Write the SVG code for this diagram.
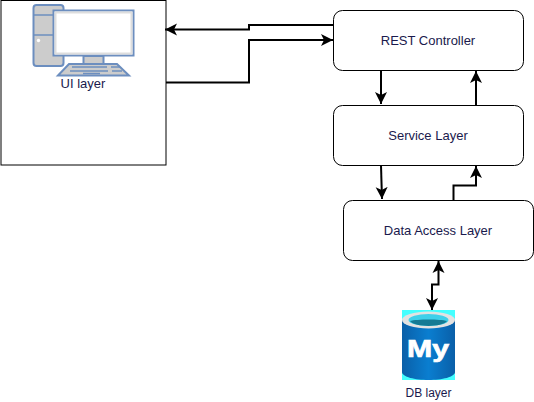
<svg xmlns="http://www.w3.org/2000/svg" width="534" height="402" viewBox="0 0 534 402">
<style>
.t{font-family:"Liberation Sans",Arial,sans-serif;font-size:13px;fill:#1a1a4d;text-anchor:middle}
.box{fill:#fff;stroke:#000;stroke-width:1}
.c{fill:none;stroke:#000;stroke-width:2}
.p{fill:#ccc;stroke:#6c8ebf;stroke-width:2}
.k{fill:none;stroke:#6c8ebf;stroke-width:1.5}
</style>
<defs>
<marker id="a" markerUnits="userSpaceOnUse" markerWidth="14" markerHeight="14" refX="12" refY="6" orient="auto-start-reverse" viewBox="0 0 14 12">
<path d="M0 0L12 6L0 12L3 6Z" fill="#000"/>
</marker>
<linearGradient id="cyl" x1="0" x2="1" y1="0" y2="0">
<stop offset="0" stop-color="#0a5fa8"/><stop offset=".5" stop-color="#0a7ed0"/><stop offset="1" stop-color="#0a5fa8"/>
</linearGradient>
</defs>
<rect width="534" height="402" fill="#fff"/>
<g id="ui-layer">
<rect x="1" y="0.500" width="165" height="164.500" fill="#fff" stroke="#000" stroke-width="1"/>
<rect x="33.500" y="5" width="30" height="61" rx="3" class="p"/>
<path d="M33.500 15H63.500M33.500 35H63.500" class="k"/>
<circle cx="38.500" cy="40.500" r="1.700" fill="#fff"/>
<rect x="53.500" y="10.500" width="80" height="45" fill="#fff" stroke="#6c8ebf" stroke-width="2"/>
<rect x="55.500" y="12.500" width="76" height="41" fill="none" stroke="#ddd" stroke-width="2"/>
<rect x="83.500" y="56" width="20" height="8" class="p"/>
<path d="M58 75.500L69 64H117L129 75.500Z" class="p"/>
<path d="M72 67H107M111 67H120M70 71H108M112 71H122M83 73.500H100" class="k"/>
<text class="t" x="83" y="88">UI layer</text>
</g>
<g id="rest-controller">
<rect class="box" x="333.500" y="10.500" width="190" height="60" rx="9"/>
<text class="t" x="428" y="45">REST Controller</text>
</g>
<g id="service-layer">
<rect class="box" x="333.500" y="105.500" width="190" height="60" rx="9"/>
<text class="t" x="428" y="140">Service Layer</text>
</g>
<g id="data-access-layer">
<rect class="box" x="343.500" y="200.500" width="190" height="60" rx="9"/>
<text class="t" x="438" y="235">Data Access Layer</text>
</g>
<g id="db-layer">
<rect x="402" y="310" width="53" height="70" fill="#4ff"/>
<path d="M402 320V372C402 377 415 380 428.500 380S455 377 455 372V320Z" fill="url(#cyl)"/>
<ellipse cx="428.500" cy="320" rx="26.500" ry="8.500" fill="#e2e2e2"/>
<ellipse cx="428.500" cy="320" rx="20" ry="6" fill="#3fd0ea"/>
<path d="M410 321C417 319 440 319 447 321C442 327.500 415 327.500 410 321Z" fill="#157a94"/>
<text x="428" y="357" font-family="'Liberation Sans',Arial,sans-serif" font-weight="bold" font-size="24" fill="#fff" stroke="#fff" stroke-width="0.700" text-anchor="middle" textLength="42" lengthAdjust="spacingAndGlyphs">My</text>
<text class="t" x="428.500" y="397" style="font-size:12px">DB layer</text>
</g>
<g id="connectors">
<path class="c" d="M333 25H249V29.500H165" marker-end="url(#a)"/>
<path class="c" d="M166 82.500H249V40H333" marker-end="url(#a)"/>
<path class="c" d="M381 70V104" marker-end="url(#a)"/>
<path class="c" d="M476 105V71" marker-end="url(#a)"/>
<path class="c" d="M381 165.500L382 199" marker-end="url(#a)"/>
<path class="c" d="M453.500 200V185.500H476V166" marker-end="url(#a)"/>
<path class="c" d="M432 310V284.500H438.500V261" marker-start="url(#a)" marker-end="url(#a)"/>
</g>
</svg>
